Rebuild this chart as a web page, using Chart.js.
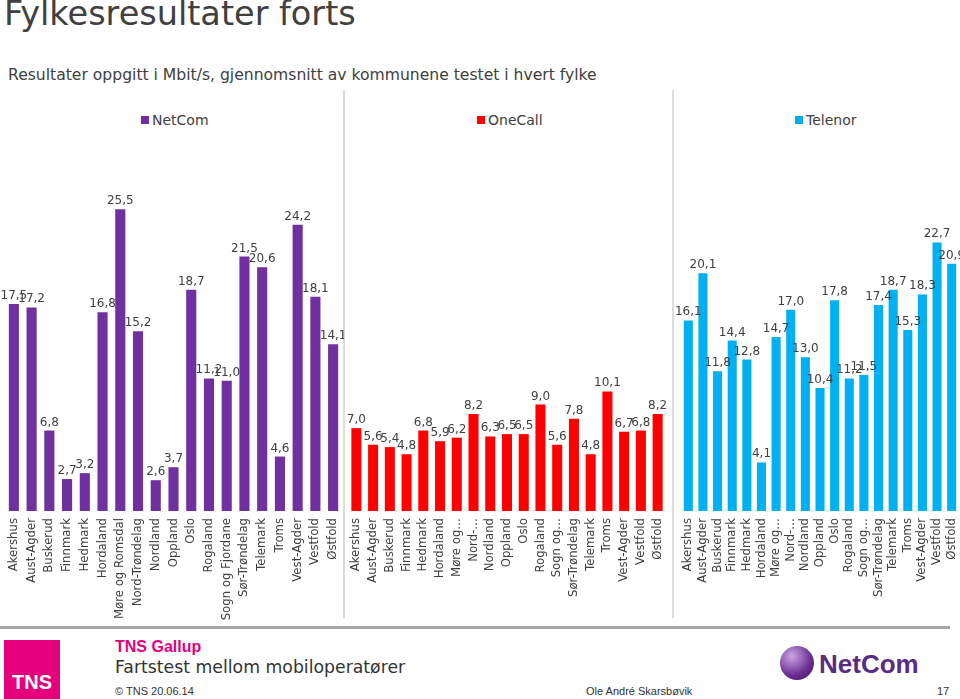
<!DOCTYPE html>
<html>
<head>
<meta charset="utf-8">
<script src="https://cdn.jsdelivr.net/npm/chart.js@4"></script>
<style>
  body { margin: 0; width: 960px; height: 699px; background: #fff; overflow: hidden; position: relative; font-family: "DejaVu Sans", Verdana, sans-serif; color: #404040; }
  .abs { position: absolute; white-space: nowrap; }
  #tittel { left: 4px; top: -6px; font-size: 33.5px; color: #404040; }
  #undertittel { left: 8px; top: 66px; font-size: 15.6px; color: #404040; }
  .skille { position: absolute; top: 90px; height: 528px; width: 2px; background: #dcdcdc; }
  .legende { top: 112px; font-size: 14px; color: #404040; }
  .legende i { display: inline-block; width: 8px; height: 8px; margin-right: 3px; vertical-align: 1px; }
  .panel { position: absolute; top: 140px; height: 490px; }
  #bunnlinje { left: 0; top: 626px; width: 950px; height: 3px; background: #a6a6a6; }
  #tns { left: 4px; top: 640px; width: 56px; height: 59px; background: #e5007d; color: #fff; font: bold 20px "Liberation Sans", Arial, sans-serif; text-align: center; line-height: 84px; }
</style>
</head>
<body>
<div id="tittel" class="abs">Fylkesresultater forts</div>
<div id="undertittel" class="abs">Resultater oppgitt i Mbit/s, gjennomsnitt av kommunene testet i hvert fylke</div>

<div class="skille" style="left:343px"></div>
<div class="skille" style="left:672px"></div>

<div class="abs legende" style="left:141px"><i style="background:#7030a0"></i>NetCom</div>
<div class="abs legende" style="left:477px"><i style="background:#ff0000"></i>OneCall</div>
<div class="abs legende" style="left:795px"><i style="background:#00b0f0"></i>Telenor</div>

<div class="panel" style="left:0; width:344px"><canvas id="c1"></canvas></div>
<div class="panel" style="left:344px; width:329px"><canvas id="c2"></canvas></div>
<div class="panel" style="left:673px; width:287px"><canvas id="c3"></canvas></div>

<div id="bunnlinje" class="abs"></div>

<div id="tns" class="abs">TNS</div>
<div class="abs" style="left:115px; top:638px; font: bold 16px 'Liberation Sans', Arial, sans-serif; color:#e5007d">TNS Gallup</div>
<div class="abs" style="left:115px; top:657px; font-size:17.3px; color:#333">Fartstest mellom mobiloperatører</div>
<div class="abs" style="left:115px; top:685px; font: 11px 'Liberation Sans', Arial, sans-serif; color:#333">© TNS 20.06.14</div>
<div class="abs" style="left:586px; top:685px; font: 11px 'Liberation Sans', Arial, sans-serif; color:#333">Ole André Skarsbøvik</div>
<div class="abs" style="left:780px; top:646px; width:34px; height:34px; border-radius:50%; background: radial-gradient(circle at 35% 30%, #c9a6e0, #6a2c91 60%, #3d1a5a);"></div>
<div class="abs" style="left:819px; top:649px; font: bold 26px 'Liberation Sans', Arial, sans-serif; color:#5b2c86">NetCom</div>
<div class="abs" style="left:937px; top:685px; font: 11px 'Liberation Sans', Arial, sans-serif; color:#333">17</div>

<script>
// fylker (kategorier)
const fylker = ["Akershus", "Aust-Agder", "Buskerud", "Finnmark", "Hedmark", "Hordaland",
    "Møre og Romsdal", "Nord-Trøndelag", "Nordland", "Oppland", "Oslo", "Rogaland",
    "Sogn og Fjordane", "Sør-Trøndelag", "Telemark", "Troms", "Vest-Agder", "Vestfold", "Østfold"];
// forkortede navn slik de vises i de smale panelene
const fylkerKort = ["Akershus", "Aust-Agder", "Buskerud", "Finnmark", "Hedmark", "Hordaland",
    "Møre og…", "Nord-…", "Nordland", "Oppland", "Oslo", "Rogaland",
    "Sogn og…", "Sør-Trøndelag", "Telemark", "Troms", "Vest-Agder", "Vestfold", "Østfold"];

// Mbit/s per operatør
const netcom  = [17.5, 17.2, 6.8, 2.7, 3.2, 16.8, 25.5, 15.2, 2.6, 3.7, 18.7, 11.2, 11.0, 21.5, 20.6, 4.6, 24.2, 18.1, 14.1];
const onecall = [7.0, 5.6, 5.4, 4.8, 6.8, 5.9, 6.2, 8.2, 6.3, 6.5, 6.5, 9.0, 5.6, 7.8, 4.8, 10.1, 6.7, 6.8, 8.2];
const telenor = [16.1, 20.1, 11.8, 14.4, 12.8, 4.1, 14.7, 17.0, 13.0, 10.4, 17.8, 11.2, 11.5, 17.4, 18.7, 15.3, 18.3, 22.7, 20.9];

// Verdier over søylene, med komma som desimaltegn
const verdiEtiketter = {
    id: 'verdiEtiketter',
    afterDatasetsDraw(chart) {
        const ctx = chart.ctx;
        ctx.save();
        ctx.font = '12px "DejaVu Sans", Verdana, sans-serif';
        ctx.fillStyle = '#404040';
        ctx.textAlign = 'center';
        ctx.textBaseline = 'alphabetic';
        chart.getDatasetMeta(0).data.forEach((bar, i) => {
            const v = chart.data.datasets[0].data[i];
            ctx.fillText(v.toFixed(1).replace('.', ','), bar.x, bar.y - 5);
        });
        ctx.restore();
    }
};

function lagPanel(id, etiketter, verdier, farge, pad) {
    new Chart(document.getElementById(id), {
        type: 'bar',
        data: {
            labels: etiketter,
            datasets: [{ data: verdier, backgroundColor: farge, barPercentage: 1, categoryPercentage: pad.bredde }]
        },
        options: {
            responsive: true,
            maintainAspectRatio: false,
            animation: false,
            layout: { padding: { left: pad.v, right: pad.h, top: 16, bottom: 0 } },
            plugins: { legend: { display: false }, tooltip: { enabled: false } },
            scales: {
                x: {
                    grid: { display: false, drawTicks: false },
                    border: { display: false },
                    ticks: {
                        color: '#404040',
                        font: { family: '"DejaVu Sans", Verdana, sans-serif', size: 11.7 },
                        minRotation: 90, maxRotation: 90, padding: 7, autoSkip: false
                    },
                    afterFit(scale) {
                        scale.height = 119;
                        scale.paddingLeft = 0;
                        scale.paddingRight = 0;
                    }
                },
                y: { display: false, min: 0, max: 30 }
            }
        },
        plugins: [verdiEtiketter]
    });
}

lagPanel('c1', fylker, netcom, '#7030a0', { v: 5, h: 2, bredde: 0.57 });
lagPanel('c2', fylkerKort, onecall, '#ff0000', { v: 4, h: 7, bredde: 0.6 });
lagPanel('c3', fylkerKort, telenor, '#00b0f0', { v: 8, h: 1, bredde: 0.62 });
</script>
</body>
</html>
